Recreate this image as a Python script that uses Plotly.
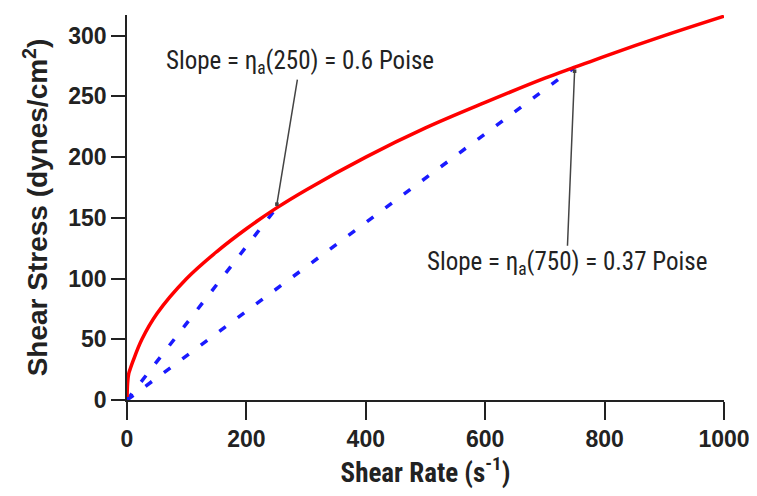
import plotly.graph_objects as go

# Flow curve
shear_rate = [0, 1, 3, 5, 10, 25, 50, 100, 150, 200, 250, 300, 400, 500, 600, 700, 750, 800, 900, 1000]
shear_stress = [0, 14, 22, 25, 32, 50, 71, 100, 122, 141, 158, 173, 200, 224, 245, 265, 274, 283, 300, 316]

# Secant lines (apparent viscosity) at these shear rates
secant_rates = [250, 750]
secant_stress = [158, 274]
slope_labels = ["Slope = η<sub>a</sub>(250) = 0.6 Poise", "Slope = η<sub>a</sub>(750) = 0.37 Poise"]

x_ticks = [0, 200, 400, 600, 800, 1000]
y_ticks = [0, 50, 100, 150, 200, 250, 300]

NARROW = "Liberation Sans Narrow, Arial Narrow, Roboto Condensed, Liberation Sans, Arial, sans-serif"
BOLD = "Liberation Sans, Arial, sans-serif"

fig = go.Figure()
for r, s in zip(secant_rates, secant_stress):
    fig.add_trace(go.Scatter(x=[0, r], y=[0, s], mode="lines",
                             line=dict(color="#1a1aff", width=3.5, dash="8px,15px"),
                             hoverinfo="skip", showlegend=False))
fig.add_trace(go.Scatter(x=shear_rate, y=shear_stress, mode="lines",
                         line=dict(color="#ff0000", width=3.5, shape="spline"),
                         showlegend=False))
fig.add_trace(go.Scatter(x=[0], y=[0], mode="markers",
                         marker=dict(color="#1a1aff", size=6, symbol="square"),
                         showlegend=False))

offsets = [(24, -146), (-8, 196)]
for (r, s), lab, (ax, ay) in zip(zip(secant_rates, secant_stress), slope_labels, offsets):
    fig.add_annotation(x=r, y=s, xref="x", yref="y", text=lab, showarrow=True,
                       ax=ax, ay=ay, arrowhead=7, arrowsize=0.6, arrowwidth=1.5,
                       arrowcolor="#444444", standoff=4,
                       font=dict(family=NARROW, size=25, color="#222222"))

# page body has an 8px margin, so the figure is sized to fit the 757x496 window
fig.update_layout(
    width=749, height=488,
    margin=dict(l=119, r=33, t=7, b=96, autoexpand=False),
    paper_bgcolor="white", plot_bgcolor="white",
    xaxis=dict(range=[0, 1000], tickvals=x_ticks, ticks="outside", ticklen=18, tickwidth=1.5,
               tickcolor="#222", showline=True, linecolor="#222", linewidth=1.5,
               showgrid=False, zeroline=False, automargin=False, ticklabeloverflow="allow",
               tickfont=dict(family=BOLD, size=23, color="#222", weight="bold"),
               title=dict(text="<b>Shear Rate (s<sup>-1</sup>)</b>", standoff=10,
                          font=dict(family=NARROW, size=27, color="#222"))),
    yaxis=dict(range=[0, 317], tickvals=y_ticks, ticks="outside", ticklen=14, tickwidth=1.5,
               tickcolor="#222", showline=True, linecolor="#222", linewidth=1.5,
               showgrid=False, zeroline=False, automargin=False, ticklabeloverflow="allow",
               tickfont=dict(family=BOLD, size=23, color="#222", weight="bold"),
               title=dict(text="<b>Shear Stress (dynes/cm<sup>2</sup>)</b>", standoff=12,
                          font=dict(family=BOLD, size=28, color="#222"))),
)

fig.write_html("out.html")
